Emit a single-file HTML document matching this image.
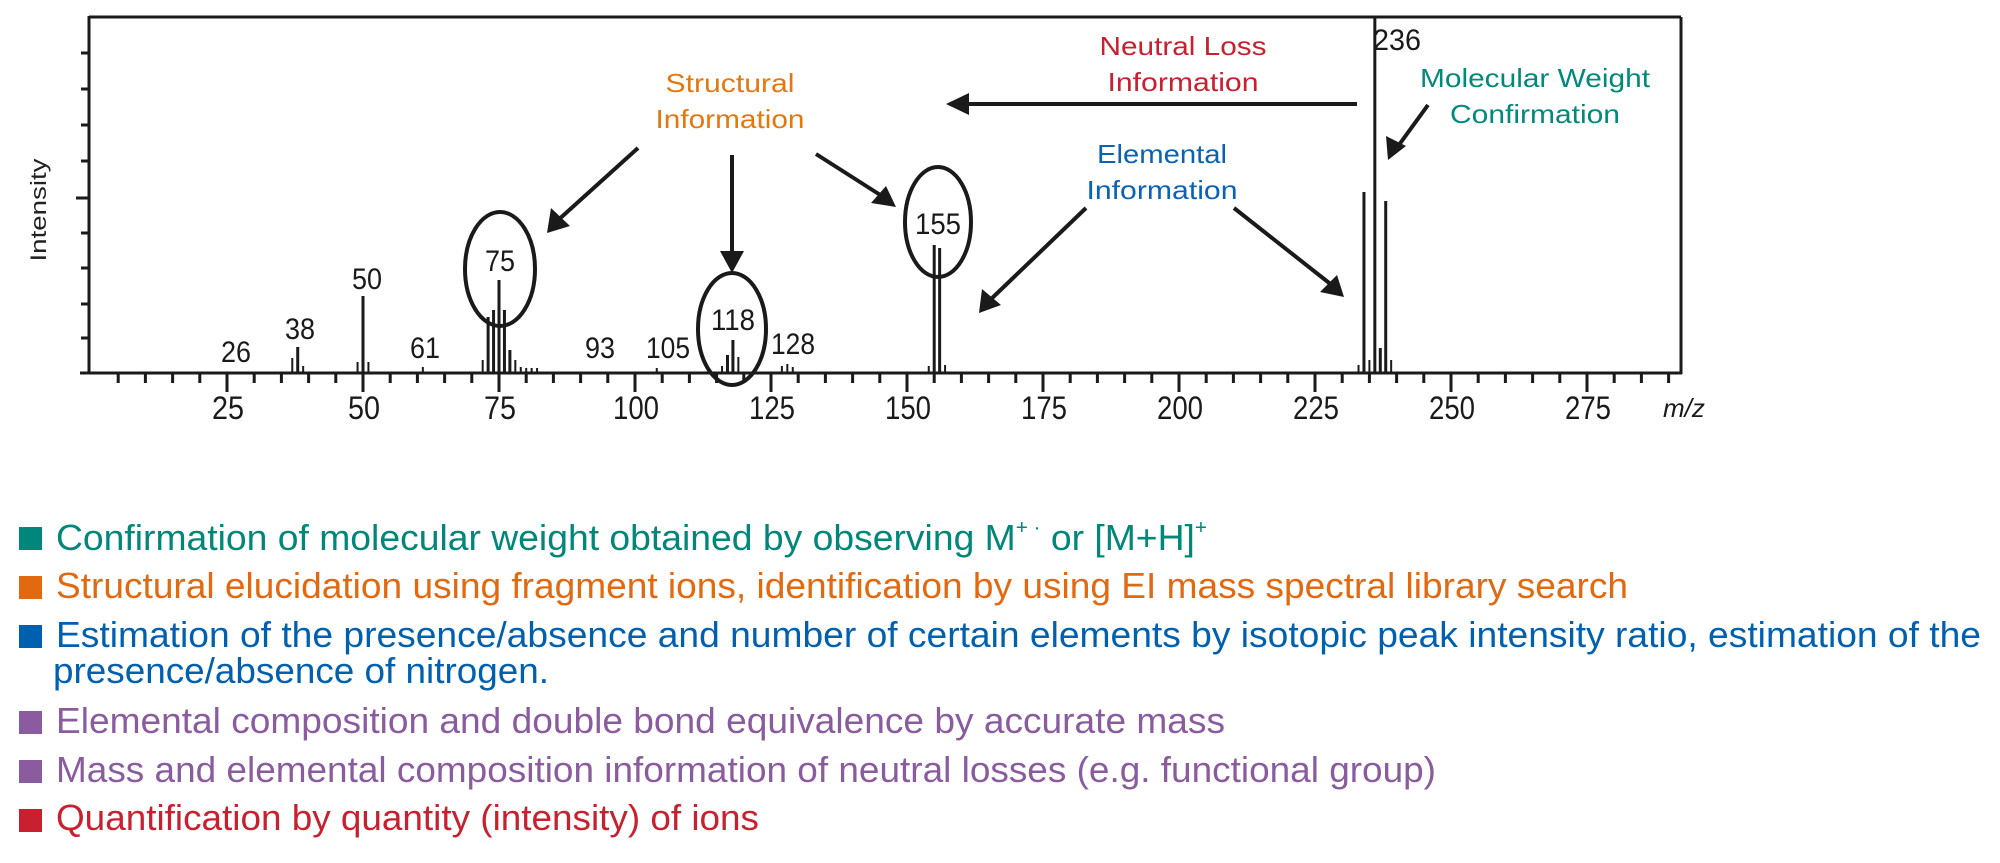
<!DOCTYPE html>
<html><head><meta charset="utf-8"><style>
html,body{margin:0;padding:0;background:#fff;width:2000px;height:863px;overflow:hidden}
svg{display:block}
.d{font-family:"Liberation Sans",sans-serif;fill:#1a1a1a}
.a{font-family:"Liberation Sans",sans-serif}
.l{font-family:"Liberation Sans",sans-serif;font-size:36px}
</style></head><body>
<svg width="2000" height="863" viewBox="0 0 2000 863" xmlns="http://www.w3.org/2000/svg">
<!-- frame -->
<g stroke="#1a1a1a" fill="none" stroke-width="3">
<line x1="89" y1="17" x2="1681" y2="17"/>
<line x1="1681" y1="17" x2="1681" y2="374"/>
<line x1="89" y1="16" x2="89" y2="374"/>
<line x1="80" y1="373" x2="1682" y2="373"/>
</g>
<!-- y ticks -->
<g stroke="#1a1a1a" stroke-width="3">
<line x1="81" y1="53" x2="89" y2="53"/><line x1="81" y1="89" x2="89" y2="89"/>
<line x1="81" y1="125" x2="89" y2="125"/><line x1="81" y1="161" x2="89" y2="161"/>
<line x1="76" y1="198" x2="89" y2="198"/><line x1="81" y1="233" x2="89" y2="233"/>
<line x1="81" y1="268" x2="89" y2="268"/><line x1="81" y1="304" x2="89" y2="304"/>
<line x1="81" y1="338" x2="89" y2="338"/>
</g>
<g id="xt" stroke="#1a1a1a" stroke-width="3"></g>
<!-- peaks -->
<g id="pk" stroke="#1a1a1a" stroke-width="3"></g>
<!-- tick labels -->
<g class="d" font-size="32" text-anchor="middle">
<text x="228" y="419" textLength="32" lengthAdjust="spacingAndGlyphs">25</text>
<text x="364" y="419" textLength="32" lengthAdjust="spacingAndGlyphs">50</text>
<text x="500" y="419" textLength="32" lengthAdjust="spacingAndGlyphs">75</text>
<text x="636" y="419" textLength="46" lengthAdjust="spacingAndGlyphs">100</text>
<text x="772" y="419" textLength="46" lengthAdjust="spacingAndGlyphs">125</text>
<text x="908" y="419" textLength="46" lengthAdjust="spacingAndGlyphs">150</text>
<text x="1044" y="419" textLength="46" lengthAdjust="spacingAndGlyphs">175</text>
<text x="1180" y="419" textLength="46" lengthAdjust="spacingAndGlyphs">200</text>
<text x="1316" y="419" textLength="46" lengthAdjust="spacingAndGlyphs">225</text>
<text x="1452" y="419" textLength="46" lengthAdjust="spacingAndGlyphs">250</text>
<text x="1588" y="419" textLength="46" lengthAdjust="spacingAndGlyphs">275</text>
</g>
<text class="d" x="1663" y="417" font-size="26" font-style="italic">m/z</text>
<text class="a" font-size="22" fill="#222" transform="translate(46,210) rotate(-90)" text-anchor="middle" textLength="103" lengthAdjust="spacingAndGlyphs">Intensity</text>
<!-- peak labels -->
<g class="d" font-size="30" text-anchor="middle">
<text x="236" y="362" textLength="30" lengthAdjust="spacingAndGlyphs">26</text>
<text x="300" y="339" textLength="30" lengthAdjust="spacingAndGlyphs">38</text>
<text x="367" y="289" textLength="30" lengthAdjust="spacingAndGlyphs">50</text>
<text x="425" y="358" textLength="30" lengthAdjust="spacingAndGlyphs">61</text>
<text x="600" y="358" textLength="30" lengthAdjust="spacingAndGlyphs">93</text>
<text x="668" y="358" textLength="44" lengthAdjust="spacingAndGlyphs">105</text>
<text x="793" y="354" textLength="44" lengthAdjust="spacingAndGlyphs">128</text>
<text x="500" y="271" textLength="30" lengthAdjust="spacingAndGlyphs">75</text>
<text x="733" y="330" textLength="44" lengthAdjust="spacingAndGlyphs">118</text>
<text x="938" y="234" textLength="46" lengthAdjust="spacingAndGlyphs">155</text>
<text x="1397" y="50" textLength="48" lengthAdjust="spacingAndGlyphs">236</text>
</g>
<!-- circles -->
<g fill="none" stroke="#1a1a1a" stroke-width="4">
<ellipse cx="500" cy="269" rx="35" ry="57"/>
<ellipse cx="732" cy="329" rx="34" ry="56"/>
<ellipse cx="938" cy="222" rx="33" ry="55"/>
</g>
<!-- arrows -->
<g stroke="#1a1a1a" stroke-width="4" fill="#1a1a1a">
<line x1="638" y1="148" x2="556" y2="222"/><polygon points="547,233 551,208 570,226" stroke="none"/>
<line x1="732" y1="155" x2="732" y2="258"/><polygon points="732,273 720,251 744,251" stroke="none"/>
<line x1="816" y1="154" x2="885" y2="198"/><polygon points="896,207 871,203 886,186" stroke="none"/>
<line x1="1357" y1="104" x2="962" y2="104"/><polygon points="946,104 969,93 969,115" stroke="none"/>
<line x1="1086" y1="208" x2="988" y2="302"/><polygon points="979,313 982,289 1001,305" stroke="none"/>
<line x1="1234" y1="208" x2="1333" y2="286"/><polygon points="1344,297 1320,292 1337,275" stroke="none"/>
<line x1="1428" y1="105" x2="1396" y2="149"/><polygon points="1388,160 1386,136 1406,146" stroke="none"/>
</g>
<!-- annotations -->
<g class="a" font-size="26" text-anchor="middle">
<text x="730" y="92" fill="#e5770f" textLength="129" lengthAdjust="spacingAndGlyphs">Structural</text>
<text x="730" y="128" fill="#e5770f" textLength="149" lengthAdjust="spacingAndGlyphs">Information</text>
<text x="1183" y="55" fill="#c8202f" textLength="167" lengthAdjust="spacingAndGlyphs">Neutral Loss</text>
<text x="1183" y="91" fill="#c8202f" textLength="151" lengthAdjust="spacingAndGlyphs">Information</text>
<text x="1162" y="163" fill="#0a62b4" textLength="130" lengthAdjust="spacingAndGlyphs">Elemental</text>
<text x="1162" y="199" fill="#0a62b4" textLength="151" lengthAdjust="spacingAndGlyphs">Information</text>
<text x="1535" y="87" fill="#008a7a" textLength="230" lengthAdjust="spacingAndGlyphs">Molecular Weight</text>
<text x="1535" y="123" fill="#008a7a" textLength="170" lengthAdjust="spacingAndGlyphs">Confirmation</text>
</g>
<!-- legend -->
<rect x="19" y="527" width="23" height="23" fill="#00877a"/>
<rect x="19" y="576" width="23" height="23" fill="#e2690f"/>
<rect x="19" y="625" width="23" height="23" fill="#0060b0"/>
<rect x="19" y="711" width="23" height="23" fill="#8a5b9e"/>
<rect x="19" y="760" width="23" height="23" fill="#8a5b9e"/>
<rect x="19" y="809" width="23" height="23" fill="#c8202f"/>
<text class="l" x="56" y="550" fill="#00877a" textLength="1151" lengthAdjust="spacingAndGlyphs">Confirmation of molecular weight obtained by observing M<tspan font-size="20" dy="-16">+ ·</tspan><tspan dy="16"> or [M+H]</tspan><tspan font-size="20" dy="-16">+</tspan></text>
<text class="l" x="56" y="598" fill="#e2690f" textLength="1572" lengthAdjust="spacingAndGlyphs">Structural elucidation using fragment ions, identification by using EI mass spectral library search</text>
<text class="l" x="56" y="647" fill="#0060b0" textLength="1925" lengthAdjust="spacingAndGlyphs">Estimation of the presence/absence and number of certain elements by isotopic peak intensity ratio, estimation of the</text>
<text class="l" x="53" y="683" fill="#0060b0" textLength="496" lengthAdjust="spacingAndGlyphs">presence/absence of nitrogen.</text>
<text class="l" x="56" y="733" fill="#8a5b9e" textLength="1169" lengthAdjust="spacingAndGlyphs">Elemental composition and double bond equivalence by accurate mass</text>
<text class="l" x="56" y="782" fill="#8a5b9e" textLength="1380" lengthAdjust="spacingAndGlyphs">Mass and elemental composition information of neutral losses (e.g. functional group)</text>
<text class="l" x="56" y="830" fill="#c8202f" textLength="703" lengthAdjust="spacingAndGlyphs">Quantification by quantity (intensity) of ions</text>
</svg>
<script>
(function(){
var ns="http://www.w3.org/2000/svg";
function X(m){return 91+m*5.44;}
var g=document.getElementById("xt");
for(var m=5;m<=290;m+=5){var l=document.createElementNS(ns,"line");var x=X(m);
l.setAttribute("x1",x);l.setAttribute("x2",x);l.setAttribute("y1",373);l.setAttribute("y2",m%25?383:392);g.appendChild(l);}
var pk=[[37,358],[38,347],[39,366],[49,362],[50,296],[51,362],[61,367],[72,360],[73,317],[74,310],[75,280],[76,310],[77,350],[78,360],[79,367],[80,368],[81,368],[82,368],
[104,368],[116,366],[117,355],[118,340],[119,357],[127,366],[128,364],[129,367],[154,366],[155,245],[156,248],[157,365],[233,365],[234,192],[235,360],[236,17],[237,348],[238,201],[239,360]];
var p=document.getElementById("pk");
pk.forEach(function(a){var l=document.createElementNS(ns,"line");var x=X(a[0]);
l.setAttribute("x1",x);l.setAttribute("x2",x);l.setAttribute("y1",373);l.setAttribute("y2",a[1]);
if(a[1]>355)l.setAttribute("stroke-width","2");p.appendChild(l);});
})();
</script>
</body></html>
